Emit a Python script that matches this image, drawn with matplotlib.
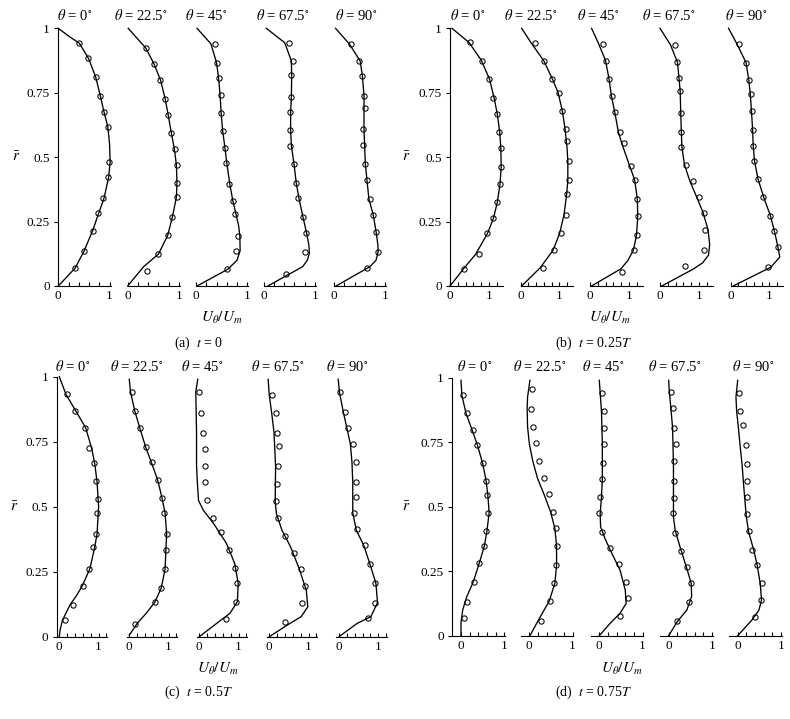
import numpy as np
import matplotlib.pyplot as plt
from matplotlib.ticker import FixedLocator

plt.rcParams['font.family'] = ['Liberation Serif', 'DejaVu Serif']
plt.rcParams['mathtext.fontset'] = 'stix'

# DATA: r-bar positions and U_theta/U_m values
# ================================================================================

angles = ['0', '22.5', '45', '67.5', '90']
captions = [r'(a)  $t$ = 0', r'(b)  $t$ = 0.25$T$', r'(c)  $t$ = 0.5$T$', r'(d)  $t$ = 0.75$T$']

# simulated profiles, (r, u) per angle
curve_a = [
    ([1, 0.97, 0.942, 0.883, 0.81, 0.737, 0.676, 0.618, 0.55, 0.48, 0.42, 0.34, 0.284, 0.215, 0.135, 0.07, 0],
     [0, 0.2, 0.41, 0.59, 0.73, 0.82, 0.89, 0.965, 1.0, 1.01, 0.98, 0.89, 0.79, 0.67, 0.5, 0.33, 0]),
    ([1, 0.924, 0.863, 0.799, 0.727, 0.663, 0.595, 0.531, 0.469, 0.40, 0.345, 0.267, 0.197, 0.124, 0.075, 0],
     [0.01, 0.35, 0.51, 0.64, 0.73, 0.79, 0.85, 0.91, 0.95, 0.96, 0.95, 0.87, 0.78, 0.6, 0.31, 0]),
    ([1, 0.94, 0.867, 0.807, 0.74, 0.671, 0.602, 0.535, 0.478, 0.394, 0.329, 0.278, 0.235, 0.193, 0.137, 0.10, 0.065, 0],
     [0.02, 0.29, 0.40, 0.44, 0.47, 0.49, 0.52, 0.565, 0.60, 0.66, 0.72, 0.78, 0.83, 0.855, 0.86, 0.80, 0.62, 0.02]),
    ([1, 0.944, 0.873, 0.817, 0.734, 0.677, 0.604, 0.544, 0.475, 0.399, 0.342, 0.268, 0.207, 0.16, 0.127, 0.10, 0.075, 0],
     [0.05, 0.41, 0.54, 0.545, 0.54, 0.525, 0.525, 0.54, 0.59, 0.635, 0.685, 0.765, 0.835, 0.88, 0.89, 0.85, 0.76, 0.08]),
    ([1, 0.939, 0.873, 0.813, 0.737, 0.61, 0.475, 0.338, 0.276, 0.211, 0.16, 0.133, 0.10, 0.075, 0],
     [0.03, 0.30, 0.51, 0.555, 0.585, 0.585, 0.61, 0.68, 0.765, 0.82, 0.855, 0.86, 0.82, 0.70, 0.04]),
]
curve_b = [
    ([1, 0.945, 0.875, 0.802, 0.728, 0.666, 0.599, 0.535, 0.463, 0.397, 0.325, 0.263, 0.205, 0.123, 0.065, 0],
     [0.05, 0.49, 0.81, 1.02, 1.14, 1.22, 1.28, 1.31, 1.32, 1.29, 1.22, 1.12, 0.97, 0.66, 0.34, 0]),
    ([1, 0.942, 0.874, 0.804, 0.75, 0.678, 0.608, 0.535, 0.484, 0.41, 0.356, 0.275, 0.205, 0.139, 0.071, 0],
     [0.03, 0.28, 0.60, 0.82, 0.97, 1.08, 1.15, 1.2, 1.22, 1.22, 1.19, 1.12, 1.01, 0.84, 0.51, 0.03]),
    ([1, 0.941, 0.875, 0.804, 0.739, 0.674, 0.598, 0.553, 0.467, 0.412, 0.338, 0.271, 0.198, 0.14, 0.10, 0.067, 0],
     [0.04, 0.22, 0.40, 0.49, 0.55, 0.64, 0.73, 0.82, 1.02, 1.15, 1.22, 1.23, 1.2, 1.12, 0.98, 0.8, 0.04]),
    ([1, 0.936, 0.868, 0.806, 0.756, 0.67, 0.598, 0.538, 0.471, 0.407, 0.347, 0.285, 0.217, 0.16, 0.12, 0.09, 0.065, 0],
     [0.0, 0.27, 0.45, 0.49, 0.52, 0.535, 0.55, 0.565, 0.63, 0.77, 0.94, 1.11, 1.24, 1.28, 1.25, 1.1, 0.85, 0.045]),
    ([1, 0.941, 0.867, 0.801, 0.745, 0.68, 0.606, 0.544, 0.484, 0.415, 0.347, 0.272, 0.214, 0.153, 0.112, 0.073, 0],
     [-0.05, 0.16, 0.40, 0.47, 0.51, 0.54, 0.57, 0.585, 0.62, 0.71, 0.85, 1.03, 1.13, 1.22, 1.27, 1.04, 0.07]),
]
curve_c = [
    ([1, 0.932, 0.868, 0.804, 0.724, 0.667, 0.597, 0.5, 0.394, 0.344, 0.262, 0.194, 0.154, 0.122, 0.063, 0.026, 0],
     [0, 0.17, 0.42, 0.67, 0.825, 0.9, 0.96, 1.0, 0.96, 0.9, 0.78, 0.58, 0.42, 0.27, 0.08, 0.02, 0]),
    ([0.99, 0.942, 0.868, 0.801, 0.728, 0.671, 0.604, 0.535, 0.476, 0.396, 0.259, 0.186, 0.133, 0.09, 0.051, 0.006],
     [0.0, 0.03, 0.14, 0.27, 0.42, 0.56, 0.72, 0.83, 0.91, 0.95, 0.91, 0.81, 0.65, 0.43, 0.2, 0.0]),
    ([0.99, 0.942, 0.862, 0.785, 0.658, 0.594, 0.524, 0.487, 0.436, 0.359, 0.282, 0.205, 0.135, 0.09, 0.051, 0],
     [-0.04, -0.09, -0.08, -0.07, -0.07, -0.05, -0.02, 0.1, 0.36, 0.69, 0.9, 0.99, 0.97, 0.78, 0.44, 0]),
    ([0.99, 0.928, 0.862, 0.785, 0.655, 0.521, 0.474, 0.410, 0.346, 0.262, 0.179, 0.115, 0.077, 0.045, 0],
     [-0.03, 0.0, 0.06, 0.12, 0.16, 0.15, 0.18, 0.32, 0.54, 0.76, 0.94, 0.98, 0.81, 0.46, 0]),
    ([0.99, 0.941, 0.864, 0.803, 0.740, 0.671, 0.596, 0.477, 0.410, 0.351, 0.278, 0.205, 0.131, 0.077, 0.051, 0],
     [-0.02, 0.01, 0.11, 0.2, 0.29, 0.33, 0.35, 0.35, 0.44, 0.63, 0.79, 0.94, 0.98, 0.81, 0.46, 0]),
]
curve_d = [
    ([0.99, 0.932, 0.862, 0.796, 0.738, 0.668, 0.601, 0.545, 0.477, 0.407, 0.348, 0.280, 0.207, 0.15, 0.1, 0.05, 0],
     [0, 0.02, 0.115, 0.26, 0.38, 0.5, 0.58, 0.62, 0.65, 0.6, 0.54, 0.42, 0.28, 0.13, 0.04, 0.0, 0.0]),
    ([0.99, 0.925, 0.88, 0.81, 0.745, 0.677, 0.61, 0.548, 0.481, 0.416, 0.348, 0.274, 0.203, 0.134, 0.087, 0.048, 0],
     [0.015, -0.04, -0.05, -0.04, 0.0, 0.08, 0.19, 0.34, 0.49, 0.59, 0.63, 0.63, 0.59, 0.46, 0.3, 0.17, 0.015]),
    ([0.99, 0.942, 0.871, 0.743, 0.606, 0.536, 0.474, 0.422, 0.377, 0.319, 0.254, 0.176, 0.125, 0.087, 0.048, 0],
     [0, 0.02, 0.05, 0.07, 0.07, 0.05, 0.02, 0.03, 0.13, 0.29, 0.48, 0.6, 0.62, 0.48, 0.25, 0]),
    ([0.99, 0.944, 0.882, 0.805, 0.66, 0.532, 0.46, 0.408, 0.345, 0.265, 0.203, 0.152, 0.1, 0.055, 0],
     [0, 0.015, 0.05, 0.09, 0.11, 0.11, 0.11, 0.15, 0.26, 0.41, 0.52, 0.53, 0.42, 0.2, 0]),
    ([0.99, 0.925, 0.872, 0.807, 0.738, 0.665, 0.536, 0.46, 0.404, 0.332, 0.273, 0.203, 0.138, 0.099, 0.061, 0],
     [0, -0.04, -0.025, 0.015, 0.055, 0.1, 0.16, 0.2, 0.25, 0.37, 0.45, 0.52, 0.55, 0.49, 0.33, 0]),
]

# measured points (open circles), (r, u) per angle
exp_a = [
    ([0.942, 0.883, 0.810, 0.737, 0.676, 0.618, 0.482, 0.424, 0.341, 0.284, 0.215, 0.135, 0.070],
     [0.413, 0.587, 0.727, 0.813, 0.887, 0.973, 0.987, 0.973, 0.88, 0.78, 0.673, 0.507, 0.333]),
    ([0.924, 0.863, 0.799, 0.727, 0.663, 0.595, 0.531, 0.469, 0.399, 0.345, 0.267, 0.197, 0.124, 0.060],
     [0.357, 0.506, 0.636, 0.727, 0.786, 0.844, 0.916, 0.968, 0.955, 0.955, 0.864, 0.779, 0.597, 0.377]),
    ([0.939, 0.867, 0.807, 0.740, 0.671, 0.602, 0.535, 0.478, 0.394, 0.329, 0.278, 0.193, 0.137, 0.065],
     [0.370, 0.403, 0.455, 0.487, 0.494, 0.526, 0.558, 0.591, 0.643, 0.721, 0.760, 0.818, 0.786, 0.610]),
    ([0.944, 0.873, 0.817, 0.734, 0.677, 0.604, 0.544, 0.475, 0.399, 0.342, 0.268, 0.207, 0.133, 0.048],
     [0.500, 0.563, 0.538, 0.538, 0.519, 0.513, 0.519, 0.582, 0.620, 0.677, 0.766, 0.829, 0.810, 0.437]),
    ([0.939, 0.873, 0.813, 0.737, 0.689, 0.610, 0.548, 0.475, 0.411, 0.338, 0.276, 0.211, 0.133, 0.071],
     [0.327, 0.497, 0.549, 0.588, 0.608, 0.575, 0.562, 0.614, 0.634, 0.699, 0.765, 0.824, 0.850, 0.647]),
]
exp_b = [
    ([0.945, 0.875, 0.802, 0.728, 0.666, 0.599, 0.535, 0.463, 0.397, 0.325, 0.263, 0.205, 0.123, 0.065],
     [0.513, 0.812, 1.0, 1.12, 1.205, 1.274, 1.325, 1.308, 1.282, 1.222, 1.12, 0.966, 0.735, 0.350]),
    ([0.942, 0.874, 0.804, 0.750, 0.678, 0.608, 0.562, 0.484, 0.410, 0.356, 0.275, 0.205, 0.139, 0.071],
     [0.376, 0.598, 0.820, 0.991, 1.077, 1.162, 1.205, 1.248, 1.239, 1.197, 1.162, 1.051, 0.872, 0.581]),
    ([0.941, 0.875, 0.804, 0.739, 0.674, 0.598, 0.553, 0.467, 0.412, 0.338, 0.271, 0.198, 0.139, 0.055],
     [0.336, 0.407, 0.496, 0.558, 0.646, 0.761, 0.885, 1.044, 1.150, 1.212, 1.230, 1.212, 1.133, 0.814]),
    ([0.936, 0.868, 0.806, 0.756, 0.670, 0.598, 0.538, 0.471, 0.407, 0.347, 0.285, 0.217, 0.140, 0.077],
     [0.384, 0.446, 0.482, 0.518, 0.536, 0.554, 0.554, 0.661, 0.857, 1.0, 1.125, 1.161, 1.143, 0.634]),
    ([0.941, 0.867, 0.801, 0.745, 0.680, 0.606, 0.544, 0.484, 0.415, 0.347, 0.272, 0.214, 0.153, 0.073],
     [0.212, 0.398, 0.469, 0.531, 0.549, 0.584, 0.584, 0.611, 0.708, 0.850, 1.027, 1.124, 1.221, 0.973]),
]
exp_c = [
    ([0.932, 0.868, 0.804, 0.724, 0.667, 0.597, 0.528, 0.477, 0.394, 0.344, 0.262, 0.194, 0.122, 0.063],
     [0.2, 0.392, 0.65, 0.758, 0.875, 0.925, 0.975, 0.958, 0.925, 0.858, 0.767, 0.6, 0.35, 0.15]),
    ([0.942, 0.868, 0.801, 0.728, 0.671, 0.604, 0.535, 0.476, 0.396, 0.333, 0.259, 0.186, 0.133, 0.049],
     [0.067, 0.15, 0.275, 0.425, 0.583, 0.733, 0.825, 0.883, 0.95, 0.925, 0.908, 0.8, 0.65, 0.142]),
    ([0.942, 0.862, 0.785, 0.721, 0.658, 0.594, 0.524, 0.458, 0.403, 0.332, 0.264, 0.208, 0.135, 0.067],
     [-0.01, 0.05, 0.093, 0.153, 0.144, 0.153, 0.195, 0.356, 0.551, 0.754, 0.907, 0.958, 0.941, 0.686]),
    ([0.928, 0.862, 0.785, 0.733, 0.655, 0.587, 0.521, 0.455, 0.387, 0.321, 0.262, 0.194, 0.128, 0.056],
     [0.079, 0.158, 0.202, 0.237, 0.211, 0.184, 0.158, 0.219, 0.412, 0.632, 0.798, 0.904, 0.842, 0.395]),
    ([0.941, 0.864, 0.803, 0.740, 0.671, 0.596, 0.537, 0.477, 0.413, 0.351, 0.278, 0.205, 0.131, 0.073],
     [0.035, 0.148, 0.226, 0.357, 0.443, 0.426, 0.426, 0.383, 0.470, 0.652, 0.783, 0.922, 0.922, 0.730]),
]
exp_d = [
    ([0.932, 0.862, 0.796, 0.738, 0.668, 0.601, 0.545, 0.477, 0.407, 0.348, 0.280, 0.207, 0.132, 0.067],
     [0.046, 0.146, 0.277, 0.377, 0.508, 0.577, 0.608, 0.623, 0.585, 0.538, 0.423, 0.292, 0.131, 0.062]),
    ([0.955, 0.880, 0.810, 0.745, 0.677, 0.610, 0.548, 0.481, 0.416, 0.348, 0.274, 0.203, 0.134, 0.058],
     [0.069, 0.046, 0.077, 0.146, 0.231, 0.331, 0.462, 0.546, 0.623, 0.646, 0.615, 0.577, 0.469, 0.269]),
    ([0.942, 0.871, 0.806, 0.743, 0.671, 0.606, 0.536, 0.474, 0.402, 0.339, 0.278, 0.209, 0.145, 0.076],
     [0.054, 0.109, 0.109, 0.109, 0.078, 0.062, 0.023, 0.0, 0.07, 0.240, 0.457, 0.612, 0.667, 0.481]),
    ([0.944, 0.882, 0.805, 0.742, 0.677, 0.601, 0.532, 0.475, 0.397, 0.329, 0.265, 0.203, 0.129, 0.057],
     [0.062, 0.1, 0.131, 0.169, 0.123, 0.131, 0.131, 0.1, 0.146, 0.292, 0.415, 0.515, 0.462, 0.2]),
    ([0.939, 0.872, 0.815, 0.738, 0.665, 0.601, 0.536, 0.470, 0.404, 0.332, 0.273, 0.203, 0.137, 0.071],
     [0.031, 0.055, 0.118, 0.181, 0.213, 0.213, 0.213, 0.220, 0.260, 0.323, 0.449, 0.551, 0.528, 0.402]),
]


# LAYOUT (pixels in a 790 x 719 canvas)
# ================================================================================

W, H = 790, 719

panels = [
    dict(curves=curve_a, exp=exp_a, u0=[58.3, 127.7, 196, 263.7, 334], unit=51.3, xlim=(0, 1.02),
         top=28.3, bottom=286, titles_x=[74.5, 140.5, 206, 282.5, 356.7], title_y=15,
         label_x=222, label_y=318, cap_x=198.5, cap_y=343, rbar_x=16, rbar_y=157),
    dict(curves=curve_b, exp=exp_b, u0=[450, 520.5, 590, 660, 730.5], unit=38.8, xlim=(0, 1.36),
         top=28.3, bottom=286, titles_x=[468, 531, 598, 669, 746.7], title_y=15,
         label_x=610, label_y=318, cap_x=593, cap_y=343, rbar_x=406, rbar_y=157),
    dict(curves=curve_c, exp=exp_c, u0=[59.3, 129.3, 199.3, 269.3, 339], unit=39.3, xlim=(-0.07, 1.22),
         top=376.7, bottom=636.7, titles_x=[72.7, 137, 202.5, 277.5, 347], title_y=366,
         label_x=218, label_y=669, cap_x=198.5, cap_y=692, rbar_x=14, rbar_y=507),
    dict(curves=curve_d, exp=exp_d, u0=[461, 529.3, 599.3, 668.7, 737.7], unit=43.3, xlim=(-0.2, 1.02),
         top=377.7, bottom=635.7, titles_x=[475, 540, 603, 675, 753], title_y=366,
         label_x=622, label_y=669, cap_x=593, cap_y=692, rbar_x=406, rbar_y=507),
]

fig = plt.figure(figsize=(W / 100, H / 100), dpi=100)


def fig_xy(x, y):
    return x / W, 1 - y / H


for p_i, p in enumerate(panels):
    height = p['bottom'] - p['top']
    x_lo, x_hi = p['xlim']
    for k in range(5):
        left = p['u0'][k] + x_lo * p['unit']
        width = (x_hi - x_lo) * p['unit']
        ax = fig.add_axes([left / W, 1 - p['bottom'] / H, width / W, height / H])
        ax.patch.set_alpha(0)

        r_c, u_c = p['curves'][k]
        ax.plot(u_c, r_c, color='black', linewidth=0.95, clip_on=False)
        r_e, u_e = p['exp'][k]
        ax.plot(u_e, r_e, 'o', mfc='none', mec='black', ms=3.8, mew=0.75, clip_on=False)

        ax.set_xlim(x_lo, x_hi)
        ax.set_ylim(0, 1)

        for side in ('top', 'right'):
            ax.spines[side].set_visible(False)
        ax.spines['bottom'].set_linewidth(0.8)
        ax.spines['left'].set_linewidth(0.8)

        ax.xaxis.set_major_locator(FixedLocator([0, 1]))
        minors = [m for m in np.arange(0.2, x_hi, 0.2) if abs(m - 1) > 1e-6]
        ax.xaxis.set_minor_locator(FixedLocator(minors))
        ax.set_xticklabels(['0', '1'])
        ax.tick_params(axis='x', which='both', direction='in', length=3, width=0.8,
                       labelsize=9.5, pad=3)

        if k == 0:
            ax.set_yticks([0, 0.25, 0.5, 0.75, 1])
            ax.set_yticklabels(['0', '0.25', '0.5', '0.75', '1'])
            ax.tick_params(axis='y', direction='out', length=3, width=0.8, labelsize=9.5, pad=3)
        else:
            ax.spines['left'].set_visible(False)
            ax.set_yticks([])

        tx, ty = fig_xy(p['titles_x'][k], p['title_y'])
        fig.text(tx, ty, r'$\theta$ = ' + angles[k] + r'$^{\circ}$', ha='center', va='center', fontsize=10.5)

    lx, ly = fig_xy(p['label_x'], p['label_y'])
    fig.text(lx, ly, r'$U_\theta/U_m$', ha='center', va='center', fontsize=11)
    cx, cy = fig_xy(p['cap_x'], p['cap_y'])
    fig.text(cx, cy, captions[p_i], ha='center', va='center', fontsize=10)
    rx, ry = fig_xy(p['rbar_x'], p['rbar_y'])
    fig.text(rx, ry, r'$\bar{r}$', ha='center', va='center', fontsize=11)

fig.savefig('out.png', dpi=100)
